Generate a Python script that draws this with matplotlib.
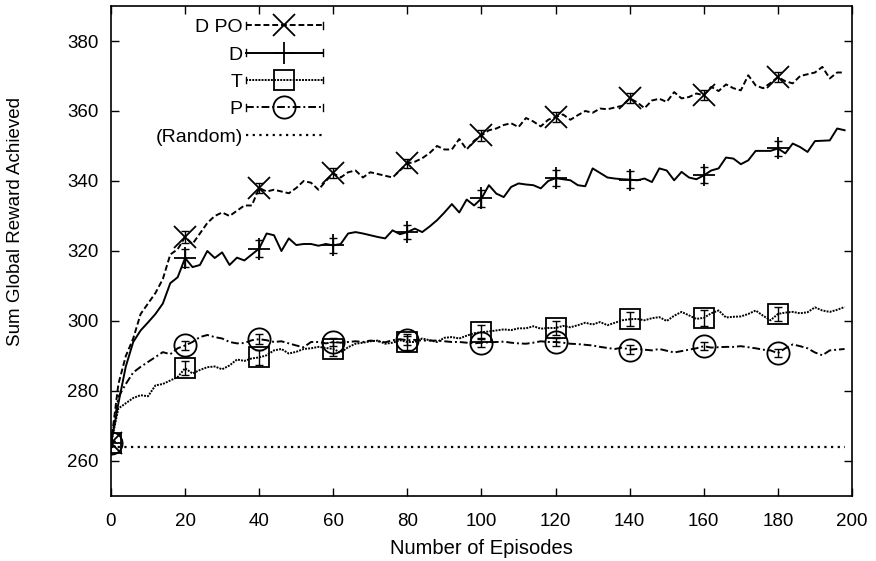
import numpy as np
import matplotlib
matplotlib.use("Agg")
import matplotlib.pyplot as plt
from matplotlib.lines import Line2D
from matplotlib.legend_handler import HandlerLine2D

plt.rcParams['font.family'] = ['Liberation Sans', 'DejaVu Sans']

# episodes (every 2nd episode is plotted), error bars every 20
episodes = np.arange(0, 200, 2)
bar_step = 10  # index step -> every 20 episodes

dpo = [265, 282, 290, 295, 302, 305, 308, 312, 319, 320.5,
       324, 322, 325, 328, 330, 331, 330, 331.5, 333, 333,
       338, 337, 337.5, 337, 336.5, 338, 340, 339.5, 337.5, 340,
       342.2, 341, 342.5, 343, 341, 342.5, 342, 341.5, 341, 343,
       345, 345.5, 346.5, 348, 350, 349, 349, 352, 349, 351.5,
       353, 354.5, 355, 356, 356.5, 355.4, 358, 357, 355.6, 357.5,
       358.3, 359, 357.5, 358.8, 360, 359.5, 360.7, 360.5, 361, 361.5,
       363.6, 362.5, 360.8, 363, 363.5, 362.6, 365.4, 363.6, 364, 365,
       364.5, 366.9, 365.7, 367.6, 366.5, 365.9, 370.2, 367.3, 366.5, 368,
       369.7, 368.5, 367.9, 370, 370.5, 371, 372.6, 369.3, 371, 371]

d = [265, 276.5, 287, 294, 297.3, 299.6, 302, 305, 310.8, 312.5,
     318, 315.4, 316, 320, 318, 319.6, 316, 318.1, 317.3, 319,
     320.7, 325, 324.5, 320, 323.6, 321.7, 322, 322, 321.5, 322,
     321.6, 322, 325, 325.4, 325, 324.5, 324, 323.6, 325.9, 324.8,
     325.4, 326.4, 325.4, 327, 328.8, 331, 333.4, 331, 334.7, 333,
     335, 338.8, 336.4, 335.4, 338.3, 339.3, 339, 338.8, 337.9, 340,
     340.8, 340.5, 340.2, 338.8, 338.5, 343.6, 342.3, 341, 340.7, 340.5,
     340.4, 340.2, 340.7, 339.7, 343.6, 343, 340.2, 342.6, 341, 340.5,
     341.6, 343, 343.6, 346.7, 346.4, 344.8, 345.9, 348.6, 348.6, 348.6,
     349.3, 347.9, 350.7, 349.7, 348.3, 351.4, 351.5, 351.6, 355, 354.5]

t = [265, 275, 276.5, 278, 278.8, 278.5, 281.6, 282, 283, 284,
     286.5, 285, 286, 286.8, 287, 286.2, 287.3, 289, 288.6, 289.3,
     289.6, 290.2, 291.6, 292, 290.7, 291.2, 292, 292.2, 292.6, 292.3,
     292, 291, 292.5, 293.5, 293.8, 294.2, 294.4, 293.5, 293.8, 294.5,
     294, 294, 295, 294.5, 294, 295.2, 295.4, 295, 295.8, 296.5,
     296.8, 297, 297.3, 297.6, 297.4, 297.9, 297.9, 298.5, 297.8, 298,
     298, 298.6, 298.2, 298.8, 299.5, 299, 299.7, 298.8, 299.5, 300.2,
     300.5, 300.6, 300.2, 300.8, 301.1, 300, 301.5, 302.6, 301.6, 300.6,
     300.9, 302.2, 303, 301, 301.2, 301.3, 302, 303, 301.5, 300.2,
     302, 302.4, 302.6, 302.2, 302.5, 303.9, 303, 302.6, 303.2, 304]

p = [265, 278.3, 282, 285.3, 286.9, 288.3, 289.7, 291.1, 290.5, 292.2,
     293, 294, 295.4, 296, 295.4, 295, 294, 293.6, 293.7, 294.5,
     294.8, 294.5, 294, 294.2, 293.6, 293, 292.5, 294, 294, 293.6,
     294, 293.8, 294, 294.2, 294, 294.4, 294.2, 293.9, 294.5, 294.8,
     294.5, 294.6, 294.4, 294.4, 294.4, 294.2, 294, 294, 293.8, 293.6,
     293.8, 293.9, 294, 294.1, 293.8, 293.6, 293.5, 293.8, 294.2, 294,
     294, 293.8, 293.5, 293.4, 293.2, 293, 292.6, 292.3, 292, 292.4,
     291.8, 292, 291.8, 291.6, 292, 291.5, 291, 291.4, 291.8, 292.2,
     292.8, 292.4, 292.5, 292.6, 292.6, 292.8, 292.5, 292.2, 291.8, 291.6,
     290.8, 292.2, 293.3, 292.8, 292.2, 291, 290.2, 291.6, 291.8, 292]

random_level = 264

# error bar half-widths at episodes 0, 20, ..., 180
dpo_err = [0.6, 1.6, 1.5, 1.4, 1.3, 1.5, 1.5, 1.4, 1.5, 1.4]
d_err = [0.6, 2.6, 2.4, 2.2, 2.0, 2.3, 2.2, 2.4, 2.3, 2.2]
t_err = [0.6, 2.0, 2.2, 2.0, 2.2, 2.0, 2.0, 2.0, 2.2, 2.0]
p_err = [0.6, 1.2, 1.4, 1.2, 1.3, 1.2, 1.2, 1.2, 1.2, 1.2]

series = [
    ('D PO', dpo, dpo_err, (0, (3, 1.5)), 'x'),
    ('D', d, d_err, '-', '+'),
    ('T', t, t_err, (0, (1, 0.6)), 's'),
    ('P', p, p_err, (0, (4, 1.5, 1, 1.5)), 'o'),
]


class CapHandler(HandlerLine2D):
    # gnuplot style key sample: line with small end caps
    def create_artists(self, legend, orig_handle, xdescent, ydescent,
                       width, height, fontsize, trans):
        arts = super().create_artists(legend, orig_handle, xdescent, ydescent,
                                      width, height, fontsize, trans)
        ymid = (height - ydescent) / 2
        cap = 2.4
        for xx in (-xdescent, width - xdescent):
            arts.append(Line2D([xx, xx], [ymid - cap, ymid + cap],
                               color='black', lw=1.0, transform=trans))
        return arts


fig = plt.figure(figsize=(8.76, 5.61), dpi=100)
ax = fig.add_subplot(111)
fig.subplots_adjust(left=0.1267, right=0.9726, top=0.9893, bottom=0.1159)

handles = []
for name, vals, err, ls, mk in series:
    vals = np.array(vals)
    ax.plot(episodes, vals, color='black', lw=1.4, linestyle=ls)
    xb = episodes[::bar_step]
    yb = vals[::bar_step]
    ax.errorbar(xb, yb, yerr=err, fmt='none', ecolor='black',
                elinewidth=1.0, capsize=3, capthick=1.0)
    ms = 16 if mk != 's' else 15
    ax.plot(xb, yb, linestyle='none', marker=mk, markersize=ms,
            markerfacecolor='none', markeredgecolor='black',
            markeredgewidth=1.3)
    handles.append(Line2D([], [], color='black', lw=1.4, linestyle=ls,
                          marker=mk, markersize=ms, markerfacecolor='none',
                          markeredgecolor='black', markeredgewidth=1.3))

ax.plot([0, 198], [random_level, random_level], color='black',
        lw=1.6, linestyle=(0, (1, 2)))
handles.append(Line2D([], [], color='black', lw=1.6, linestyle=(0, (1, 2))))
labels = [s[0] for s in series] + ['(Random)']

hmap = {h: CapHandler(numpoints=1) for h in handles[:4]}
leg = ax.legend(handles, labels, loc='upper right',
                bbox_to_anchor=(0.297, 0.99), borderaxespad=0,
                frameon=False, fontsize=14, markerfirst=False,
                handlelength=4.0, labelspacing=0.5,
                handletextpad=0.15, handler_map=hmap)
for txt in leg.get_texts():
    txt.set_ha('right')

ax.set_xlim(0, 200)
ax.set_ylim(250, 390)
ax.set_xticks(np.arange(0, 201, 20))
ax.set_yticks(np.arange(260, 381, 20))
ax.tick_params(direction='in', top=True, right=True, length=6, width=1,
               labelsize=13.5)
ax.tick_params(axis='x', pad=12)
ax.tick_params(axis='y', pad=9)
for sp in ax.spines.values():
    sp.set_linewidth(1.2)

ax.set_xlabel('Number of Episodes', fontsize=14.5, labelpad=7)
ax.set_ylabel('Sum Global Reward Achieved', fontsize=13.5)
ax.yaxis.set_label_coords(-0.118, 0.56)

fig.savefig('out.png', dpi=100)
